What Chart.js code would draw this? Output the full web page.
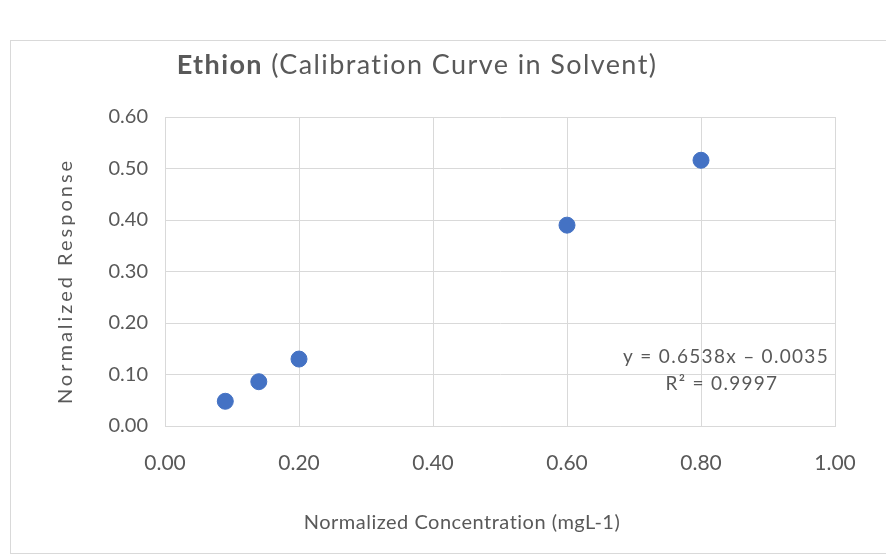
<!DOCTYPE html>
<html>
<head>
<meta charset="utf-8">
<script src="https://cdn.jsdelivr.net/npm/chart.js@4"></script>
<style>
  html, body { margin: 0; padding: 0; background: #fff; }
  #wrap { width: 886px; height: 558px; }
</style>
</head>
<body>
<div id="wrap"><canvas id="calChart"></canvas></div>
<script>
// Calibration points
const concentration = [0.09, 0.14, 0.20, 0.60, 0.80];
const response = [0.048, 0.086, 0.130, 0.390, 0.516];
const xTitle = "Normalized Concentration (mgL-1)";
const yTitle = "Normalized Response";
const trendText = ["y = 0.6538x \u2013 0.0035", "R\u00b2 = 0.9997"];

const gray = "#595959";
const fontFamily = "Lato, 'Open Sans', sans-serif";

// Frame, titles and trendline equation
const decorations = {
    id: "decorations",
    beforeDraw(chart) {
        const c = chart.ctx;
        c.save();
        c.fillStyle = "#fff";
        c.fillRect(0, 0, chart.width, chart.height);
        c.strokeStyle = "#d9d9d9";
        c.lineWidth = 1;
        c.strokeRect(10.5, 40.5, 900, 513);
        c.restore();
    },
    afterDraw(chart) {
        const c = chart.ctx;
        c.save();
        c.fillStyle = gray;
        c.textBaseline = "middle";

        // chart title: bold name followed by regular subtitle
        c.letterSpacing = "1.4px";
        const boldPart = "Ethion";
        const rest = " (Calibration Curve in Solvent)";
        c.font = "bold 27px " + fontFamily;
        const w1 = c.measureText(boldPart).width;
        c.font = "27px " + fontFamily;
        const w2 = c.measureText(rest).width;
        const x0 = 417 - (w1 + w2) / 2;
        c.font = "bold 27px " + fontFamily;
        c.fillText(boldPart, x0, 65);
        c.font = "27px " + fontFamily;
        c.fillText(rest, x0 + w1, 65);

        // axis titles
        c.textAlign = "center";
        c.letterSpacing = "0.5px";
        c.font = "20px " + fontFamily;
        c.fillText(xTitle, 462, 523);
        c.save();
        c.translate(66, 281);
        c.rotate(-Math.PI / 2);
        c.letterSpacing = "3px";
        c.fillText(yTitle, 0, 0);
        c.restore();

        // trendline equation
        c.letterSpacing = "1.3px";
        c.font = "19px " + fontFamily;
        c.textAlign = "right";
        c.fillText(trendText[0], 829, 357);
        c.textAlign = "center";
        c.fillText(trendText[1], 722, 384);
        c.restore();
    }
};

const ctx = document.getElementById("calChart").getContext("2d");

new Chart(ctx, {
    type: "scatter",
    data: {
        datasets: [{
            label: "Ethion",
            data: concentration.map((x, i) => ({ x: x, y: response[i] })),
            backgroundColor: "#4472C4",
            borderColor: "#4472C4",
            pointRadius: 8,
            pointHoverRadius: 8
        }]
    },
    options: {
        responsive: true,
        maintainAspectRatio: false,
        animation: false,
        layout: { padding: { left: 0, right: 51, top: 117, bottom: 0 } },
        plugins: {
            legend: { display: false },
            tooltip: { enabled: false }
        },
        scales: {
            x: {
                type: "linear",
                min: 0,
                max: 1,
                afterFit(scale) { scale.height = 132; },
                grid: { color: "#d9d9d9", drawTicks: false },
                border: { color: "#d9d9d9" },
                ticks: {
                    stepSize: 0.2,
                    padding: 25,
                    color: gray,
                    font: { family: fontFamily, size: 21 },
                    callback: v => v.toFixed(2)
                }
            },
            y: {
                min: 0,
                max: 0.6,
                afterFit(scale) { scale.width = 165; },
                grid: { color: "#d9d9d9", drawTicks: false },
                border: { color: "#d9d9d9" },
                ticks: {
                    stepSize: 0.1,
                    padding: 17,
                    color: gray,
                    font: { family: fontFamily, size: 20 },
                    callback: v => v.toFixed(2)
                }
            }
        }
    },
    plugins: [decorations]
});
</script>
</body>
</html>
